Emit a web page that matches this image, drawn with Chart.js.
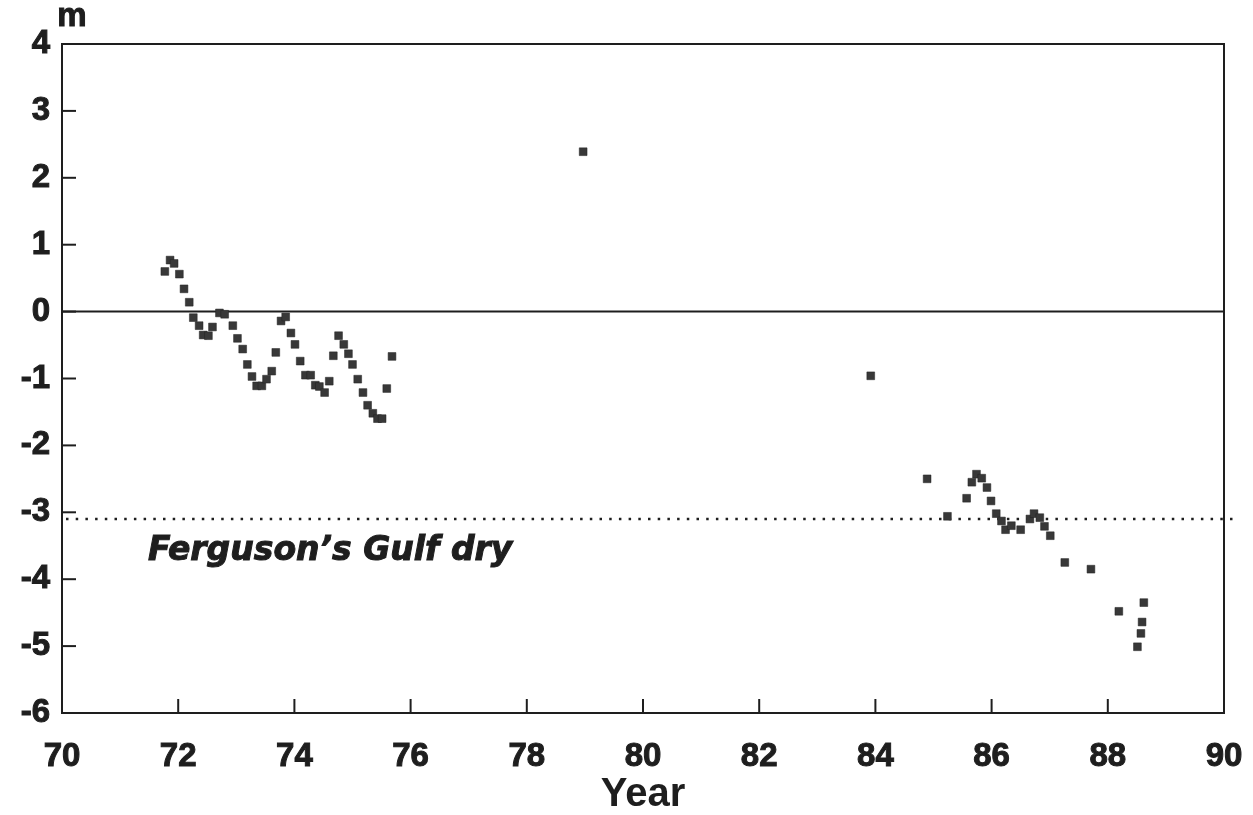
<!DOCTYPE html>
<html>
<head>
<meta charset="utf-8">
<script src="https://cdn.jsdelivr.net/npm/chart.js@4.4.1/dist/chart.umd.min.js"></script>
<style>
  html, body { margin: 0; padding: 0; background: #fff; }
  #wrap { width: 1253px; height: 815px; }
</style>
</head>
<body>
<div id="wrap"><canvas id="c" width="1253" height="815"></canvas></div>
<script>
// ---- data ----
const years = [
  71.77, 71.86, 71.93, 72.02, 72.10, 72.19, 72.26, 72.36, 72.43, 72.52,
  72.59, 72.71, 72.80, 72.94, 73.02, 73.11, 73.19, 73.27, 73.35, 73.44,
  73.52, 73.61, 73.68, 73.77, 73.85, 73.94, 74.01, 74.10, 74.19, 74.28,
  74.36, 74.43, 74.52, 74.60, 74.67, 74.76, 74.85, 74.93, 75.00, 75.09,
  75.18, 75.26, 75.35, 75.43, 75.51, 75.59, 75.68,
  78.97, 83.92,
  84.89, 85.24, 85.57, 85.66, 85.74, 85.83, 85.92, 85.99, 86.08, 86.17,
  86.24, 86.34, 86.50, 86.66, 86.73, 86.83, 86.91, 87.01, 87.26, 87.71,
  88.19, 88.62, 88.59, 88.57, 88.51
];
const levels = [
  0.60, 0.77, 0.72, 0.56, 0.34, 0.14, -0.09, -0.21, -0.35, -0.36,
  -0.23, -0.02, -0.04, -0.21, -0.40, -0.56, -0.79, -0.97, -1.11, -1.11,
  -1.01, -0.89, -0.61, -0.14, -0.08, -0.32, -0.49, -0.74, -0.95, -0.95,
  -1.10, -1.12, -1.21, -1.04, -0.66, -0.36, -0.49, -0.63, -0.79, -1.01,
  -1.21, -1.40, -1.52, -1.60, -1.60, -1.15, -0.67,
  2.39, -0.96,
  -2.50, -3.06, -2.79, -2.55, -2.43, -2.49, -2.63, -2.83, -3.02, -3.13,
  -3.26, -3.20, -3.26, -3.10, -3.02, -3.08, -3.21, -3.35, -3.75, -3.85,
  -4.48, -4.35, -4.64, -4.81, -5.01
];
const xTicks = [70, 72, 74, 76, 78, 80, 82, 84, 86, 88, 90];
const yTicks = [-6, -5, -4, -3, -2, -1, 0, 1, 2, 3, 4];
const gulfDryLevel = -3.1;
const gulfDryLabel = "Ferguson\u2019s Gulf dry";
const yUnit = "m";
const xTitle = "Year";

// ---- chart ----
const INK = '#1e1e1e';
const points = years.map((x, i) => ({ x: x, y: levels[i] }));

const framePlugin = {
  id: 'frame',
  beforeDatasetsDraw(chart) {
    const { ctx, chartArea: a, scales: { x, y } } = chart;
    ctx.save();
    // zero line
    ctx.strokeStyle = INK;
    ctx.lineWidth = 2;
    const y0 = y.getPixelForValue(0);
    ctx.beginPath(); ctx.moveTo(a.left, y0); ctx.lineTo(a.right, y0); ctx.stroke();
    // dotted "gulf dry" line (extends slightly past the frame)
    const yd = y.getPixelForValue(gulfDryLevel);
    ctx.setLineDash([2.5, 7.2]);
    ctx.lineWidth = 2.5;
    ctx.beginPath(); ctx.moveTo(a.left + 4, yd); ctx.lineTo(a.right + 14, yd); ctx.stroke();
    ctx.setLineDash([]);
    // frame
    ctx.lineWidth = 2;
    ctx.strokeRect(a.left, a.top, a.right - a.left, a.bottom - a.top);
    // inward ticks
    const tl = 14;
    yTicks.forEach(v => {
      const p = y.getPixelForValue(v);
      ctx.beginPath(); ctx.moveTo(a.left, p); ctx.lineTo(a.left + tl, p); ctx.stroke();
    });
    xTicks.forEach(v => {
      const p = x.getPixelForValue(v);
      ctx.beginPath(); ctx.moveTo(p, a.bottom); ctx.lineTo(p, a.bottom - tl); ctx.stroke();
    });
    // labels
    ctx.fillStyle = INK;
    ctx.strokeStyle = INK;
    ctx.lineWidth = 1;
    ctx.font = 'bold 33px "Liberation Sans", Arial, sans-serif';
    ctx.textAlign = 'center';
    ctx.textBaseline = 'alphabetic';
    ctx.fillText(yUnit, a.left + 10, 26);
    ctx.strokeText(yUnit, a.left + 10, 26);
    ctx.font = 'italic bold 33px "DejaVu Sans", sans-serif';
    ctx.textAlign = 'left';
    const gx = x.getPixelForValue(71.48), gy = y.getPixelForValue(-3.72);
    ctx.fillText(gulfDryLabel, gx, gy);
    ctx.strokeText(gulfDryLabel, gx, gy);
    ctx.restore();
  }
};

new Chart(document.getElementById('c'), {
  type: 'scatter',
  data: {
    datasets: [{
      data: points,
      pointStyle: 'rect',
      pointRadius: 5.5,
      pointHoverRadius: 5.5,
      backgroundColor: '#383838',
      borderColor: '#222',
      borderWidth: 0.5
    }]
  },
  options: {
    responsive: false,
    animation: false,
    devicePixelRatio: 1,
    layout: { padding: { left: 0, right: 29, top: 44, bottom: 0 } },
    plugins: { legend: { display: false }, tooltip: { enabled: false } },
    scales: {
      x: {
        type: 'linear',
        min: 70, max: 90,
        afterBuildTicks: s => { s.ticks = xTicks.map(v => ({ value: v })); },
        afterFit: s => { s.height = 102; s.paddingLeft = 0; s.paddingRight = 0; },
        grid: { display: false, drawTicks: false },
        border: { display: false },
        ticks: {
          padding: 24,
          color: INK,
          textStrokeColor: INK,
          textStrokeWidth: 1,
          font: { family: '"Liberation Sans", Arial, sans-serif', size: 33, weight: 'bold' },
          maxRotation: 0
        },
        title: {
          display: true, text: xTitle, color: INK,
          font: { family: '"Liberation Sans", Arial, sans-serif', size: 40, weight: 'bold' },
          padding: { top: 4, bottom: -4 }
        }
      },
      y: {
        type: 'linear',
        min: -6, max: 4,
        afterBuildTicks: s => { s.ticks = yTicks.map(v => ({ value: v })); },
        afterFit: s => { s.width = 62; s.paddingTop = 0; s.paddingBottom = 0; },
        grid: { display: false, drawTicks: false },
        border: { display: false },
        ticks: {
          padding: 12,
          color: INK,
          textStrokeColor: INK,
          textStrokeWidth: 1,
          font: { family: '"Liberation Sans", Arial, sans-serif', size: 33, weight: 'bold' }
        }
      }
    }
  },
  plugins: [framePlugin]
});
</script>
</body>
</html>
